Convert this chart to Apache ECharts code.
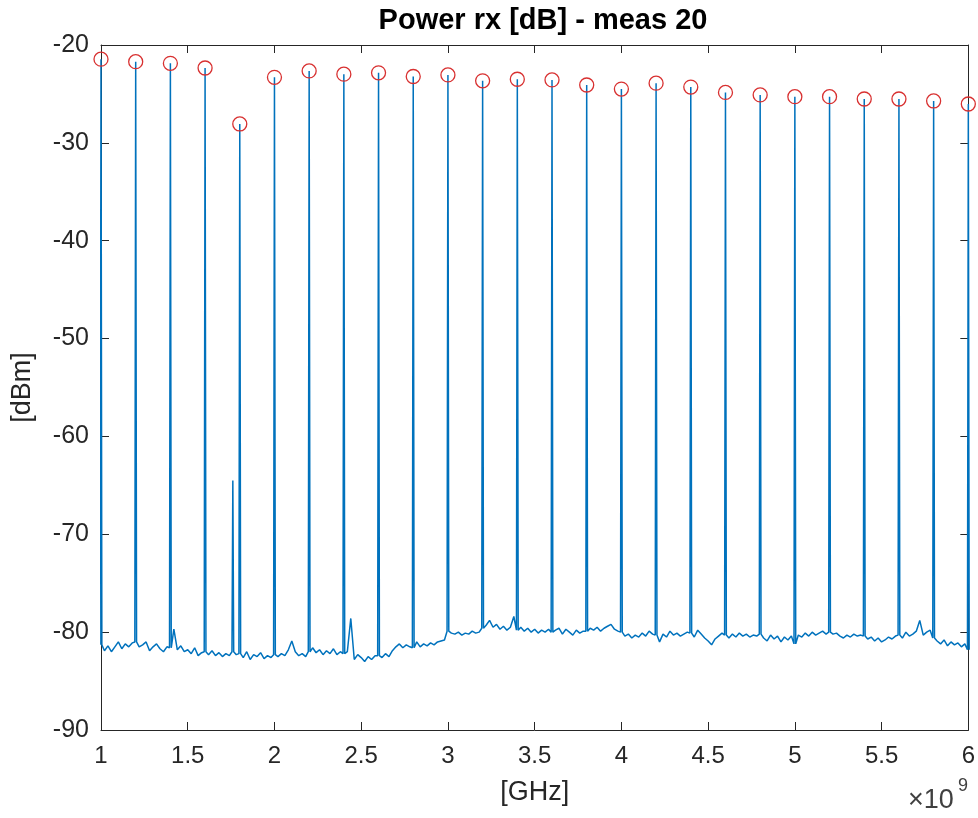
<!DOCTYPE html>
<html>
<head>
<meta charset="utf-8">
<script src="https://cdn.jsdelivr.net/npm/echarts@6/dist/echarts.min.js"></script>
<style>
  html, body { margin: 0; padding: 0; background: #ffffff; }
  #chart { width: 978px; height: 818px; }
</style>
</head>
<body>
<div id="chart"></div>
<script>
// ---- data ----
const xTickLabels = ['1', '1.5', '2', '2.5', '3', '3.5', '4', '4.5', '5', '5.5', '6'];
const yTickLabels = ['-90', '-80', '-70', '-60', '-50', '-40', '-30', '-20'];

// noise floor sampled every 0.02 GHz from 1.00 to 6.00 GHz (dBm)
const noiseStartGHz = 1.0;
const noiseStepGHz = 0.02;
const noiseDbm = [
  -81.3, -81.9, -81.4, -82.0, -81.5, -81.0, -81.7, -81.2, -81.5, -81.1,
  -81.0, -81.5, -81.3, -81.0, -81.9, -81.5, -81.2, -81.7, -82.0, -81.5,
  -81.6, -79.7, -81.8, -81.4, -82.0, -81.8, -82.2, -81.6, -82.4, -82.1,
  -82.0, -82.3, -81.9, -82.4, -82.1, -82.5, -82.2, -82.4, -82.0, -82.3,
  -82.2, -82.6, -82.0, -82.8, -82.3, -82.5, -82.1, -82.7, -82.4, -82.6,
  -82.3, -82.5, -82.2, -82.4, -81.8, -80.9, -82.0, -82.4, -82.2, -82.5,
  -82.0, -81.6, -82.1, -81.8, -82.3, -81.9, -82.2, -81.7, -82.3, -82.0,
  -82.2, -82.0, -78.6, -82.8, -82.3, -82.6, -83.0, -82.5, -82.8, -82.4,
  -82.4, -82.6, -82.2, -82.5, -81.9, -81.5, -81.2, -81.6, -81.3, -81.5,
  -81.6, -81.0, -81.5, -81.2, -81.4, -81.1, -81.3, -81.0, -80.9, -80.8,
  -79.9, -80.1, -80.2, -80.0, -80.3, -80.1, -80.2, -79.9, -80.1, -80.0,
  -79.6, -79.3, -78.8, -79.5, -79.2, -79.7, -79.4, -79.8, -79.5, -78.4,
  -79.8, -79.5, -79.9, -79.6, -80.0, -79.7, -80.1, -79.8, -80.0, -79.7,
  -80.0, -79.8, -79.6, -80.2, -79.7, -80.0, -80.3, -79.8, -80.1, -79.9,
  -79.9, -79.6, -79.8, -79.5, -79.9, -79.6, -79.4, -79.2, -79.7, -79.9,
  -80.0, -80.4, -80.2, -80.6, -80.3, -80.5, -80.1, -80.4, -79.9, -80.2,
  -80.3, -81.0, -80.2, -80.5, -79.9, -80.3, -80.1, -80.4, -80.2, -80.0,
  -80.1, -80.5, -79.8, -80.2, -80.6, -80.9, -81.3, -80.7, -80.4, -80.1,
  -80.3, -80.6, -80.2, -80.5, -80.1, -80.4, -80.2, -80.5, -80.3, -80.4,
  -80.2, -80.6, -80.9, -80.3, -80.7, -80.4, -81.0, -80.5, -80.8, -80.4,
  -81.2, -80.3, -80.5, -80.1, -80.4, -80.0, -80.3, -80.1, -79.9, -80.2,
  -80.0, -80.2, -80.1, -80.4, -80.6, -80.3, -80.5, -80.2, -80.4, -80.3,
  -80.4, -80.7, -80.5, -80.9, -80.6, -81.0, -80.8, -80.5, -80.7, -80.4,
  -80.3, -80.6, -80.0, -80.4, -80.2, -79.9, -78.8, -80.3, -80.0, -79.8,
  -80.6, -80.9, -81.2, -80.8, -81.4, -81.0, -81.3, -81.1, -81.5, -81.2, -81.8
];

// tone peaks (red circles)
const peakGHz = [1.0, 1.2, 1.4, 1.6, 1.8, 2.0, 2.2, 2.4, 2.6, 2.8, 3.0, 3.2, 3.4,
                 3.6, 3.8, 4.0, 4.2, 4.4, 4.6, 4.8, 5.0, 5.2, 5.4, 5.6, 5.8, 6.0];
const peakDbm = [-21.45, -21.7, -21.87, -22.35, -28.07, -23.3, -22.65, -22.98, -22.84,
                 -23.22, -23.06, -23.66, -23.5, -23.57, -24.09, -24.5, -23.9, -24.3,
                 -24.85, -25.1, -25.28, -25.28, -25.52, -25.52, -25.72, -26.03];

// spurious line without marker
const spurGHz = [1.76];
const spurDbm = [-64.5];

// ---- build the trace ----
const spikeHalfWidth = 0.005; // drawing width of each spike, GHz
function key(f) { return Math.round(f * 1000); }
const spikeMap = {};
peakGHz.forEach((f, i) => { spikeMap[key(f)] = peakDbm[i]; });
spurGHz.forEach((f, i) => { spikeMap[key(f)] = spurDbm[i]; });

const trace = [];
noiseDbm.forEach((n, i) => {
  const f = Math.round((noiseStartGHz + i * noiseStepGHz) * 1000) / 1000;
  const top = spikeMap[key(f)];
  if (top !== undefined) {
    trace.push([f - spikeHalfWidth, n]);
    trace.push([f, top]);
    trace.push([f + spikeHalfWidth, n]);
  } else {
    trace.push([f, n]);
  }
});
const peaks = peakGHz.map((f, i) => [f, peakDbm[i]]);

// ---- chart ----
const FONT = '"Liberation Sans", Arial, Helvetica, sans-serif';
const INK = '#262626';
const chart = echarts.init(document.getElementById('chart'), null, { renderer: 'canvas' });

function xAxisCfg(pos, showLabels) {
  return {
    type: 'value', position: pos, min: 1, max: 6, interval: 0.5,
    axisLine: { show: true, onZero: false, lineStyle: { color: INK, width: 1 } },
    axisTick: { show: true, inside: true, length: 8, lineStyle: { color: INK, width: 1 } },
    splitLine: { show: false },
    axisLabel: {
      show: showLabels, fontSize: 24, fontFamily: FONT, color: INK, margin: 14,
      showMinLabel: true, showMaxLabel: true,
      formatter: (v) => xTickLabels[Math.round((v - 1) / 0.5)]
    }
  };
}
function yAxisCfg(pos, showLabels) {
  return {
    type: 'value', position: pos, min: -90, max: -20, interval: 10,
    axisLine: { show: true, onZero: false, lineStyle: { color: INK, width: 1 } },
    axisTick: { show: true, inside: true, length: 8, lineStyle: { color: INK, width: 1 } },
    splitLine: { show: false },
    axisLabel: {
      show: showLabels, fontSize: 25, fontFamily: FONT, color: INK, margin: 12,
      showMinLabel: true, showMaxLabel: true,
      formatter: (v) => yTickLabels[Math.round((v + 90) / 10)]
    }
  };
}

const xb = xAxisCfg('bottom', true);
xb.name = '[GHz]'; xb.nameLocation = 'middle'; xb.nameGap = 49;
xb.nameTextStyle = { fontSize: 27, fontFamily: FONT, color: INK };
const yl = yAxisCfg('left', true);
yl.name = '[dBm]'; yl.nameLocation = 'middle'; yl.nameGap = 65; yl.nameRotate = 90;
yl.nameTextStyle = { fontSize: 27, fontFamily: FONT, color: INK };

chart.setOption({
  backgroundColor: '#ffffff',
  animation: false,
  title: {
    text: 'Power rx [dB] - meas 20',
    left: 538, top: 1, textAlign: 'center',
    textStyle: { fontSize: 29, fontWeight: 'bold', fontFamily: FONT, color: '#000000' }
  },
  grid: { left: 101, right: 9, top: 45, bottom: 88, containLabel: false },
  xAxis: [xb, xAxisCfg('top', false)],
  yAxis: [yl, yAxisCfg('right', false)],
  series: [
    {
      type: 'line', xAxisIndex: 0, yAxisIndex: 0, data: trace,
      showSymbol: false, symbol: 'none', clip: true,
      lineStyle: { color: '#0072BD', width: 1.5 }, z: 2
    },
    {
      type: 'scatter', xAxisIndex: 0, yAxisIndex: 0, data: peaks,
      symbol: 'circle', symbolSize: 14, clip: false,
      itemStyle: { color: 'rgba(0,0,0,0)', borderColor: '#d83030', borderWidth: 1.3, opacity: 1 },
      z: 3
    }
  ],
  graphic: [
    { type: 'text', left: 908, top: 787,
      style: { text: '×10', fontSize: 27, fontFamily: FONT, fill: '#404040' } },
    { type: 'text', left: 958, top: 777,
      style: { text: '9', fontSize: 18, fontFamily: FONT, fill: '#404040' } }
  ]
});
</script>
</body>
</html>
